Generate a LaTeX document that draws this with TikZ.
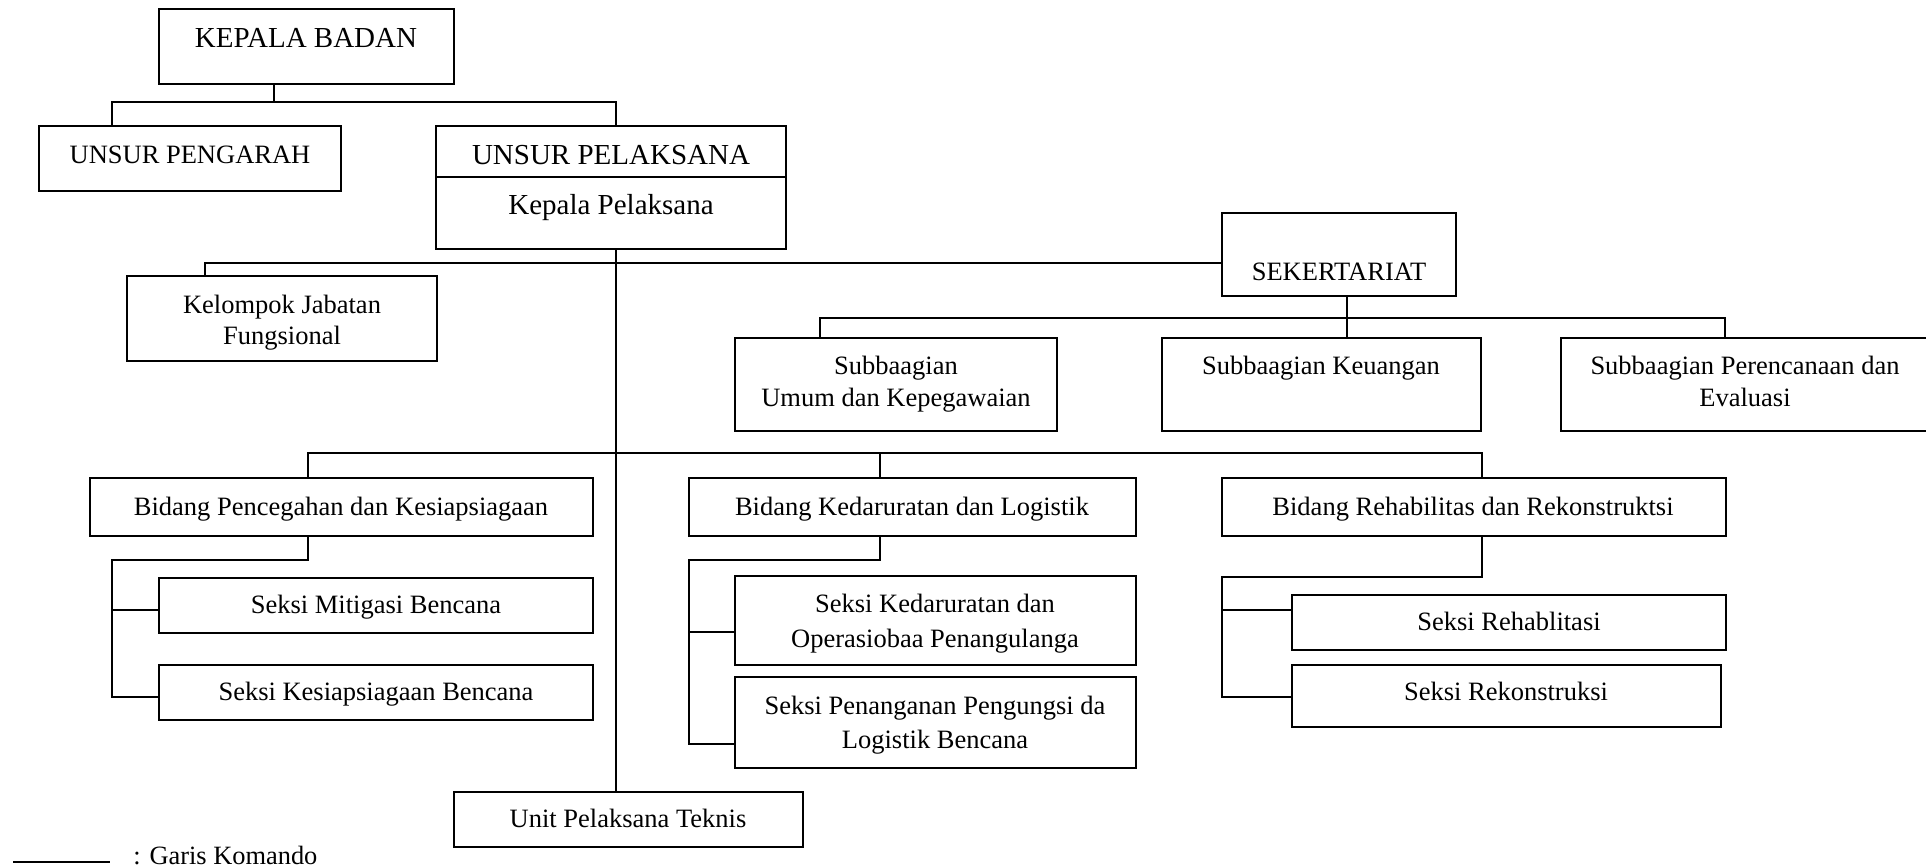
\documentclass[tikz,border=0pt]{standalone}
\usepackage{fontspec}
\setmainfont{Liberation Serif}
\usetikzlibrary{fit}
\begin{document}
\begin{tikzpicture}[x=0.5pt,y=-0.5pt,
  box/.style={draw, line width=0.9pt, inner sep=0pt},
  lbl/.style={anchor=base, inner sep=0pt, font=\fontsize{13.25}{16}\selectfont},
  biglbl/.style={lbl, font=\fontsize{14.5}{17}\selectfont},
  conn/.style={line width=0.9pt},
  mainline/.style={line width=0.55pt}]
\useasboundingbox (0,0) rectangle (1926,867);
\fill[white] (0,0) rectangle (1926,867);
\begin{scope}
\clip (0,0) rectangle (1926,867);
% boxes
\node[box, fit={(159,9) (454,84)}] (kb) {};
\node[box, fit={(39,126) (341,191)}] (up) {};
\node[box, fit={(436,126) (786,177)}] (upel) {};
\node[box, fit={(436,177) (786,249)}] (kp) {};
\node[box, fit={(127,276) (437,361)}] (kel) {};
\node[box, fit={(1222,213) (1456,296)}] (sek) {};
\node[box, fit={(735,338) (1057,431)}] (ssu) {};
\node[box, fit={(1162,338) (1481,431)}] (ssk) {};
\node[box, fit={(1561,338) (1945,431)}] (ssp) {};
\node[box, fit={(90,478) (593,536)}] (bp) {};
\node[box, fit={(689,478) (1136,536)}] (bk) {};
\node[box, fit={(1222,478) (1726,536)}] (br) {};
\node[box, fit={(159,578) (593,633)}] (sm) {};
\node[box, fit={(159,665) (593,720)}] (sks) {};
\node[box, fit={(735,576) (1136,665)}] (sk1) {};
\node[box, fit={(735,677) (1136,768)}] (sk2) {};
\node[box, fit={(1292,595) (1726,650)}] (sr1) {};
\node[box, fit={(1292,665) (1721,727)}] (sr2) {};
\node[box, fit={(454,792) (803,847)}] (upt) {};
% texts
\node[biglbl] (tkb) at (306,47) {KEPALA BADAN};
\node[lbl] (tup) at (190,163) {UNSUR PENGARAH};
\node[biglbl] (tupel) at (611,164) {UNSUR PELAKSANA};
\node[biglbl] (tkp) at (611,214) {Kepala Pelaksana};
\node[lbl] (tkel1) at (282,313) {Kelompok Jabatan};
\node[lbl] (tkel2) at (282,344) {Fungsional};
\node[lbl] (tsek) at (1339,280) {SEKERTARIAT};
\node[lbl] (tssu1) at (896,374) {Subbaagian};
\node[lbl] (tssu2) at (896,406) {Umum dan Kepegawaian};
\node[lbl] (tssk) at (1321,374) {Subbaagian Keuangan};
\node[lbl] (tssp1) at (1745,374) {Subbaagian Perencanaan dan};
\node[lbl] (tssp2) at (1745,406) {Evaluasi};
\node[lbl] (tbp) at (341,515) {Bidang Pencegahan dan Kesiapsiagaan};
\node[lbl] (tbk) at (912,515) {Bidang Kedaruratan dan Logistik};
\node[lbl] (tbr) at (1473,515) {Bidang Rehabilitas dan Rekonstruktsi};
\node[lbl] (tsm) at (376,613) {Seksi Mitigasi Bencana};
\node[lbl] (tsks) at (376,700) {Seksi Kesiapsiagaan Bencana};
\node[lbl] (tsk1a) at (935,612) {Seksi Kedaruratan dan};
\node[lbl] (tsk1b) at (935,647) {Operasiobaa Penangulanga};
\node[lbl] (tsk2a) at (935,714) {Seksi Penanganan Pengungsi da};
\node[lbl] (tsk2b) at (935,748) {Logistik Bencana};
\node[lbl] (tsr1) at (1509,630) {Seksi Rehablitasi};
\node[lbl] (tsr2) at (1506,700) {Seksi Rekonstruksi};
\node[lbl] (tupt) at (628,827) {Unit Pelaksana Teknis};
% junction coordinates
\coordinate (t0) at (274,102);
\coordinate (t1) at (112,102);
\coordinate (t2) at (616,102);
\coordinate (k1) at (205,263);
\coordinate (s0) at (1347,318);
\coordinate (s1) at (820,318);
\coordinate (s2) at (1725,318);
\coordinate (b1) at (308,453);
\coordinate (b2) at (880,453);
\coordinate (b3) at (1482,453);
\coordinate (p1) at (308,560);
\coordinate (p2) at (112,560);
\coordinate (p3) at (112,610);
\coordinate (p4) at (112,697);
\coordinate (q1) at (880,560);
\coordinate (q2) at (689,560);
\coordinate (q3) at (689,632);
\coordinate (q4) at (689,744);
\coordinate (r1) at (1482,577);
\coordinate (r2) at (1222,577);
\coordinate (r3) at (1222,610);
\coordinate (r4) at (1222,697);
% connectors
\draw[conn] (kb.south -| t0) -- (t0);
\draw[conn] (up.north -| t1) -- (t1) -- (t2) -- (upel.north -| t2);
\draw[mainline] (kp.south -| t2) -- (upt.north -| t2);
\draw[conn] (kel.north -| k1) -- (k1) -- (sek.west |- k1);
\draw[conn] (sek.south -| s0) -- (ssk.north -| s0);
\draw[conn] (ssu.north -| s1) -- (s1) -- (s2) -- (ssp.north -| s2);
\draw[conn] (bp.north -| b1) -- (b1) -- (b3) -- (br.north -| b3);
\draw[conn] (b2) -- (bk.north -| b2);
\draw[conn] (bp.south -| p1) -- (p1) -- (p2) -- (p4) -- (sks.west |- p4);
\draw[conn] (p3) -- (sm.west |- p3);
\draw[conn] (bk.south -| q1) -- (q1) -- (q2) -- (q4) -- (sk2.west |- q4);
\draw[conn] (q3) -- (sk1.west |- q3);
\draw[conn] (br.south -| r1) -- (r1) -- (r2) -- (r4) -- (sr2.west |- r4);
\draw[conn] (r3) -- (sr1.west |- r3);
% legend
\coordinate (lg1) at (13,862);
\coordinate (lg2) at (110,862);
\draw[conn] (lg1) -- (lg2);
\node[lbl, anchor=base west, font=\fontsize{13.2}{16}\selectfont] (tlg) at (133,864) {: Garis Komando};
\end{scope}
\end{tikzpicture}
\end{document}
